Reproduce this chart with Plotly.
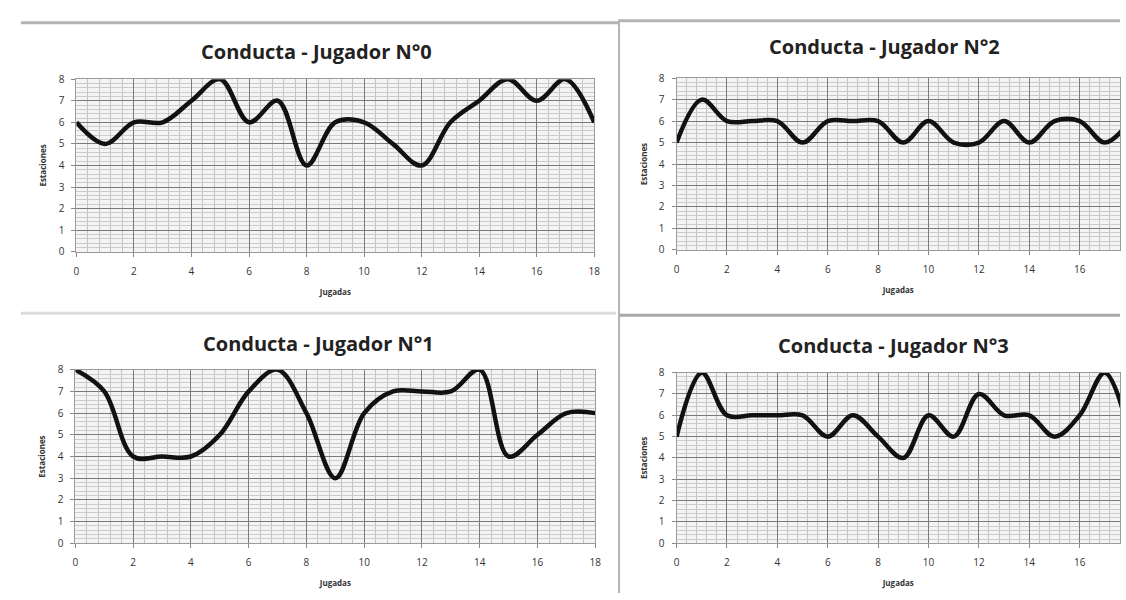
import plotly.graph_objects as go

W, H = 1126, 600

# Jugadas (x) and conduct scores per player
jugadas = list(range(19))
jugador_0 = [6, 5, 6, 6, 7, 8, 6, 7, 4, 6, 6, 5, 4, 6, 7, 8, 7, 8, 6]
jugador_1 = [8, 7, 4, 4, 4, 5, 7, 8, 6, 3, 6, 7, 7, 7, 8, 4, 5, 6, 6]
jugador_2 = [5, 7, 6, 6, 6, 5, 6, 6, 6, 5, 6, 5, 5, 6, 5, 6, 6, 5, 6]
jugador_3 = [5, 8, 6, 6, 6, 6, 5, 6, 5, 4, 6, 5, 7, 6, 6, 5, 6, 8, 5]

titles = ["Conducta - Jugador N°0", "Conducta - Jugador N°2",
          "Conducta - Jugador N°1", "Conducta - Jugador N°3"]
series = [jugador_0, jugador_2, jugador_1, jugador_3]

# plot-area boxes in pixels: left, right, top, bottom, visible x max, title centre
boxes = [
    dict(l=74, r=596, t=73, b=250, xmax=18, tx=316, ty=45),
    dict(l=679, r=1126, t=72, b=248, xmax=17.6, tx=889, ty=40),
    dict(l=73, r=597, t=371, b=549, xmax=18, tx=318, ty=344),
    dict(l=679, r=1126, t=374, b=549, xmax=17.6, tx=898, ty=346),
]

FONT = "Open Sans"
fig = go.Figure()
annotations = []

for i, (box, ys, title) in enumerate(zip(boxes, series, titles)):
    n = "" if i == 0 else str(i + 1)
    fig.add_trace(go.Scatter(
        x=jugadas, y=ys, mode="lines",
        line=dict(color="#111111", width=4.5, shape="spline", smoothing=1.0),
        xaxis="x" + n, yaxis="y" + n, showlegend=False, hoverinfo="skip",
    ))
    xd = [box["l"] / W, box["r"] / W]
    yd = [1 - box["b"] / H, 1 - box["t"] / H]
    fig.layout["xaxis" + n] = dict(
        domain=xd, range=[0, box["xmax"]], dtick=2, tick0=0,
        showgrid=True, gridcolor="#7a7a7a", gridwidth=1,
        minor=dict(dtick=0.4, tick0=0, showgrid=True, gridcolor="#c4c4c4", gridwidth=1),
        zeroline=False, showline=True, linecolor="#9a9a9a", mirror=True,
        ticks="outside", ticklen=4, tickcolor="#888888", ticklabelstandoff=6,
        tickfont=dict(family=FONT, size=10, color="#333333"),
        title=dict(text="<b>Jugadas</b>", font=dict(family=FONT, size=8, color="#333333"), standoff=12),
        anchor="y" + n, fixedrange=True,
    )
    fig.layout["yaxis" + n] = dict(
        domain=yd, range=[0, 8], dtick=1, tick0=0,
        showgrid=True, gridcolor="#7a7a7a", gridwidth=1,
        minor=dict(dtick=0.2, tick0=0, showgrid=True, gridcolor="#cccccc", gridwidth=1),
        zeroline=False, showline=True, linecolor="#9a9a9a", mirror=True,
        ticks="outside", ticklen=4, tickcolor="#888888", ticklabelstandoff=5,
        tickfont=dict(family=FONT, size=10, color="#333333"),
        title=dict(text="<b>Estaciones</b>", font=dict(family=FONT, size=8, color="#333333"), standoff=10),
        anchor="x" + n, fixedrange=True,
    )
    annotations.append(dict(
        text="<b>" + title + "</b>", x=box["tx"] / W, y=1 - box["ty"] / H,
        xref="paper", yref="paper", showarrow=False, xanchor="center", yanchor="middle",
        font=dict(family=FONT, size=20, color="#222222"),
    ))

# panel borders between the four charts
sep = "#b4b4b4"
shapes = [
    dict(type="line", xref="paper", yref="paper", x0=18 / W, x1=620 / W, y0=1 - 15 / H, y1=1 - 15 / H,
         line=dict(color=sep, width=3)),
    dict(type="line", xref="paper", yref="paper", x0=620 / W, x1=1, y0=1 - 13 / H, y1=1 - 13 / H,
         line=dict(color=sep, width=3)),
    dict(type="line", xref="paper", yref="paper", x0=621 / W, x1=621 / W, y0=0, y1=1 - 13 / H,
         line=dict(color=sep, width=2)),
    dict(type="line", xref="paper", yref="paper", x0=18 / W, x1=618 / W, y0=1 - 313 / H, y1=1 - 313 / H,
         line=dict(color="#dcdcdc", width=3)),
    dict(type="line", xref="paper", yref="paper", x0=621 / W, x1=1, y0=1 - 315 / H, y1=1 - 315 / H,
         line=dict(color="#a8a8a8", width=3)),
]

fig.update_layout(
    width=W, height=H, margin=dict(l=0, r=0, t=0, b=0),
    paper_bgcolor="white", plot_bgcolor="#f4f4f4",
    annotations=annotations, shapes=shapes,
)

fig.write_html("out.html", config={"displayModeBar": False})
